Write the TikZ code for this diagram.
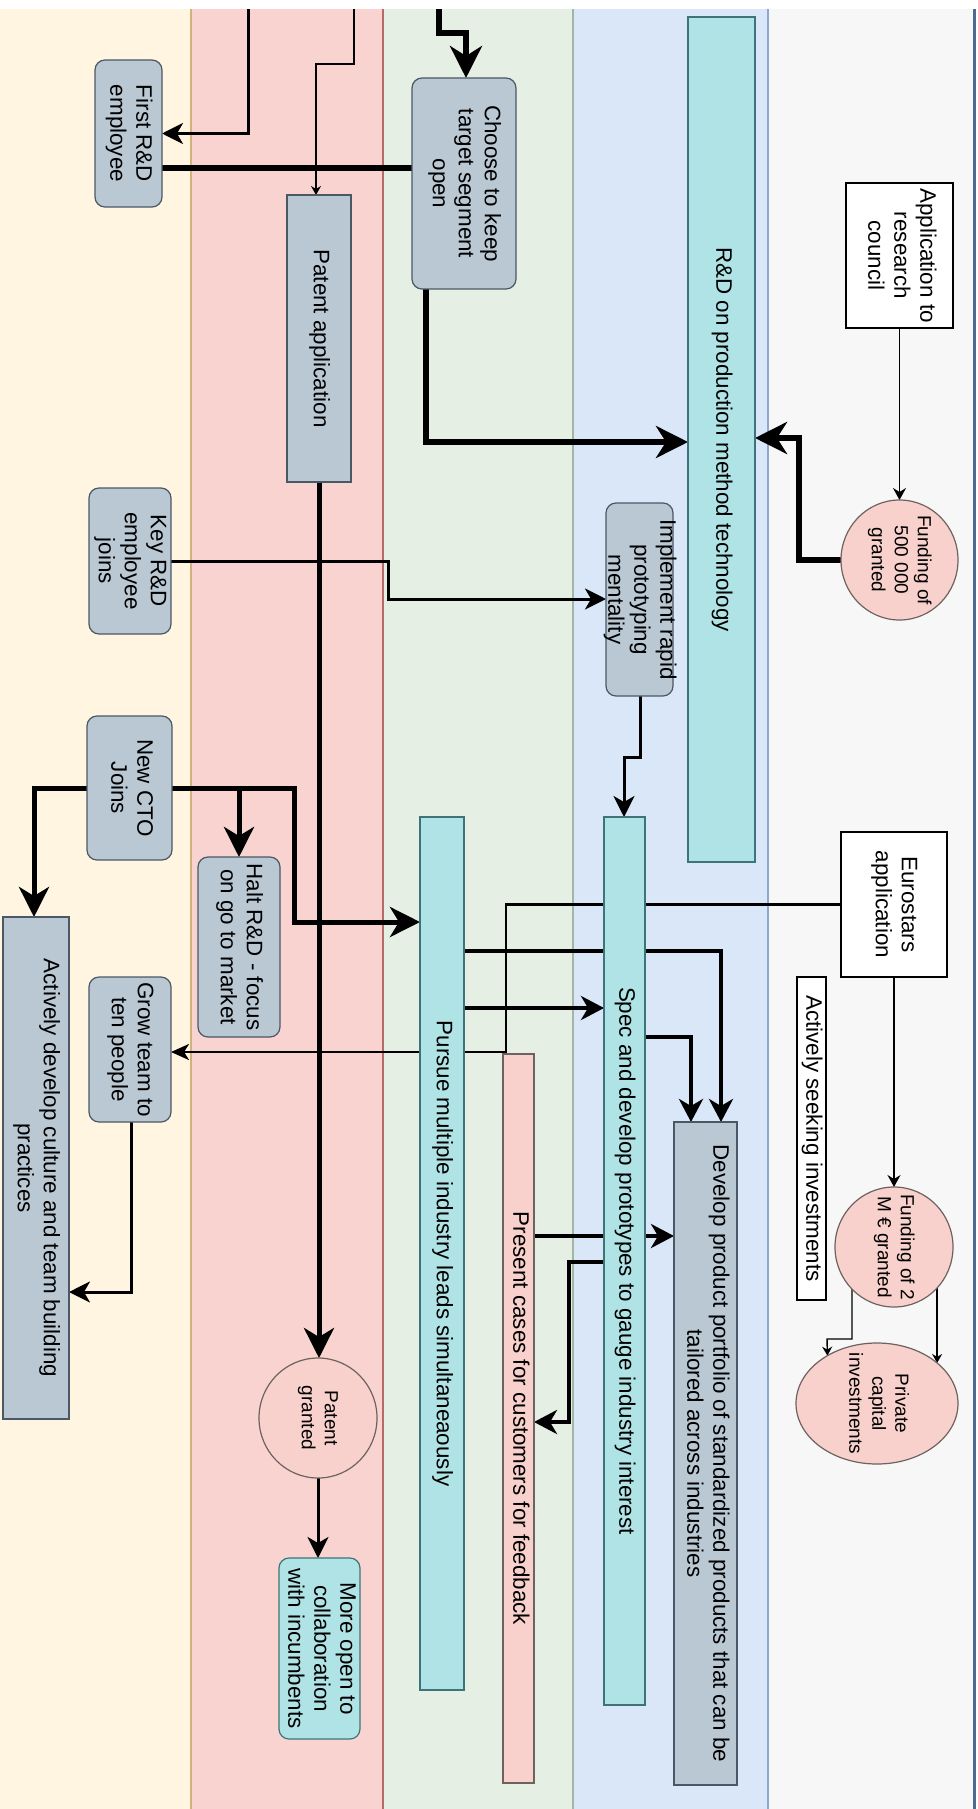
\documentclass[tikz,border=0pt]{standalone}
\usepackage{fontspec}
\setmainfont{Liberation Sans}
\usepackage{graphicx}
\usetikzlibrary{arrows.meta,shapes.geometric}
\pgfdeclarelayer{lanes}
\pgfdeclarelayer{edges}
\pgfsetlayers{lanes,edges,main}
\definecolor{laneY}{HTML}{FFF5E0}
\definecolor{laneR}{HTML}{F8D3D0}
\definecolor{laneG}{HTML}{E5EFE3}
\definecolor{laneB}{HTML}{DAE7F8}
\definecolor{laneW}{HTML}{F7F7F7}
\definecolor{bdY}{HTML}{D4B07A}
\definecolor{bdR}{HTML}{B86A66}
\definecolor{bdG}{HTML}{A3B5A3}
\definecolor{bdB}{HTML}{8DA7CF}
\definecolor{bdW}{HTML}{4F6A8F}
\definecolor{greyF}{HTML}{BAC8D3}
\definecolor{greyS}{HTML}{4A5866}
\definecolor{tealF}{HTML}{B0E3E6}
\definecolor{tealS}{HTML}{3E7479}
\definecolor{pinkF}{HTML}{F8D1CC}
\definecolor{pinkS}{HTML}{6E6260}
\newcommand{\vtext}[1]{\makebox[0pt][c]{\raisebox{.5\depth}[0pt][0pt]{\rotatebox{-90}{\begin{tabular}{@{}c@{}}#1\end{tabular}}}}}
\begin{document}
\begin{tikzpicture}[x=1pt,y=-1pt,
  box/.style={draw=greyS, fill=greyF, line width=1.2pt, inner sep=0pt, outer sep=0pt, font=\fontsize{22.4}{26}\selectfont},
  rbox/.style={box, rounded corners=10pt},
  tealbox/.style={box, draw=tealS, fill=tealF},
  rtealbox/.style={tealbox, rounded corners=10pt},
  whitebox/.style={box, draw=black, fill=white},
  pinkbox/.style={box, draw=pinkS, fill=pinkF},
  oval/.style={ellipse, draw=pinkS, fill=pinkF, line width=1.2pt, inner sep=0pt, outer sep=0pt, font=\fontsize{19}{23}\selectfont},
  arrVT/.style={line width=6pt, -{Stealth[length=32pt,width=32pt,inset=10pt]}},
  arrT5/.style={line width=5pt, -{Stealth[length=30pt,width=30pt,inset=9pt]}},
  arrT4/.style={line width=4pt, -{Stealth[length=23pt,width=24pt,inset=7pt]}},
  arrM3/.style={line width=3pt, -{Stealth[length=21pt,width=21pt,inset=6pt]}},
  arrN2/.style={line width=2.5pt, -{Stealth[length=18pt,width=16pt,inset=5pt]}},
  arrS1/.style={line width=1.6pt, -{Stealth[length=12pt,width=13pt,inset=4pt]}},
  arrS0/.style={line width=1.4pt, -{Stealth[length=9pt,width=10pt,inset=3pt]}},
  plainVT/.style={line width=6pt}
]
\useasboundingbox (0,0) rectangle (977,1809);

\begin{pgfonlayer}{lanes}
\fill[white] (0,0) rectangle (977,1809);
\fill[laneY] (0,9) rectangle (191,1809);
\fill[laneR] (191,9) rectangle (383,1809);
\fill[laneG] (383,9) rectangle (573,1809);
\fill[laneB] (573,9) rectangle (768,1809);
\fill[laneW] (768,9) rectangle (973,1809);
\draw[bdY, line width=2pt] (191,9) -- (191,1809);
\draw[bdR, line width=2pt] (383,9) -- (383,1809);
\draw[bdG, line width=1.5pt] (573,9) -- (573,1809);
\draw[bdB, line width=2pt] (768,9) -- (768,1809);
\draw[bdW, line width=3pt] (974.5,9) -- (974.5,1809);
\end{pgfonlayer}

% nodes
\node[rbox, minimum width=67, minimum height=147] (first) at (128.5,133.5) {\vtext{First R\&D\\employee}};
\node[rbox, minimum width=104, minimum height=211] (choose) at (464,183.5) {\vtext{Choose to keep\\target segment\\open}};
\node[box, minimum width=64, minimum height=287] (patapp) at (319,338.5) {\vtext{Patent application}};
\node[tealbox, minimum width=67, minimum height=845] (rdprod) at (721.5,439.5) {\vtext{R\&D on production method technology}};
\node[whitebox, minimum width=107, minimum height=145] (app) at (899.5,255.5) {\vtext{Application to\\research\\council}};
\node[oval, minimum width=117, minimum height=120] (f5) at (899.5,560) {\vtext{Funding of\\500 000\\granted}};
\node[rbox, minimum width=82, minimum height=146] (key) at (130,561) {\vtext{Key R\&D\\employee\\joins}};
\node[rbox, minimum width=67, minimum height=193] (impl) at (639.5,599.5) {\vtext{Implement rapid\\prototyping\\mentality}};
\node[rbox, minimum width=85, minimum height=144] (cto) at (129.5,788) {\vtext{New CTO\\Joins}};
\node[rbox, minimum width=82, minimum height=180] (halt) at (239,947) {\vtext{Halt R\&D - focus\\on go to market}};
\node[whitebox, minimum width=106, minimum height=145] (euro) at (894,904.5) {\vtext{Eurostars\\application}};
\node[whitebox, minimum width=29, minimum height=323] (seek) at (811.5,1138.5) {\vtext{Actively seeking investments}};
\node[tealbox, minimum width=44, minimum height=873] (pursue) at (442,1253.5) {\vtext{Pursue multiple industry leads simultaneaously}};
\node[tealbox, minimum width=41, minimum height=888] (spec) at (624.5,1261) {\vtext{Spec and develop prototypes to gauge industry interest}};
\node[rbox, minimum width=82, minimum height=145] (grow) at (130,1049.5) {\vtext{Grow team to\\ten people}};
\node[pinkbox, minimum width=31, minimum height=729] (present) at (518.5,1418.5) {\vtext{Present cases for customers for feedback}};
\node[box, minimum width=63, minimum height=663] (develop) at (705.5,1453.5) {\vtext{Develop product portfolio of standardized products that can be\\tailored across industries}};
\node[oval, minimum width=118, minimum height=120] (f2) at (894,1247) {\vtext{Funding of 2\\M € granted}};
\node[box, minimum width=66, minimum height=502] (act) at (36,1168) {\vtext{Actively develop culture and team building\\practices}};
\node[oval, minimum width=162, minimum height=121] (pc) at (877,1403.5) {\vtext{Private\\capital\\investments}};
\node[oval, minimum width=118, minimum height=120] (pg) at (318,1418) {\vtext{Patent\\granted}};
\node[rtealbox, minimum width=81, minimum height=181] (more) at (319.5,1648.5) {\vtext{More open to\\collaboration\\with incumbents}};

\coordinate (topA) at (439,9);
\coordinate (topB) at (248,9);
\coordinate (topC) at (354,9);

\begin{pgfonlayer}{edges}
\draw[arrVT] (topA) |- (466,33) -- (choose.north -| 466,0);
\draw[arrM3] (topB) |- (first.east);
\draw[arrS0] (topC) |- (316,64) -- (patapp.north -| 316,0);
\draw[plainVT] (choose.west |- 0,168) -- (first.east |- 0,168);
\draw[arrVT] (choose.south -| 426,0) |- (rdprod.west |- 0,442);
\draw[arrS1] (app.south) -- (f5.north);
\draw[arrVT] (f5.west) -| (799,438) -- (rdprod.east |- 0,438);
\draw[arrM3] (key.east) -| (388,599) -- (impl.west |- 0,599);
\draw[arrT5] (patapp.south) -- (patapp.south |- pg.north);
\draw[arrM3] (impl.south -| 640,0) |- (624,757) -- (spec.north -| 624,0);
\draw[arrT5] (cto.west) -| (act.north -| 34,0);
\draw[arrT5] (cto.east) -| (halt.north);
\draw[arrT5] (cto.east) -| (294,922) -- (pursue.west |- 0,922);
\draw[arrN2] (euro.west) -| (506,1052) -- (grow.east |- 0,1052);
\draw[arrT4] (pursue.east |- 0,951) -| (develop.north -| 721,0);
\draw[arrT4] (pursue.east |- 0,1008) -- (spec.west |- 0,1008);
\draw[arrT4] (spec.east |- 0,1037) -| (develop.north -| 691,0);
\draw[arrT4] (present.east |- 0,1236) -- (develop.west |- 0,1236);
\draw[arrT4] (spec.west |- 0,1262) -| (569,1422) -- (present.east |- 0,1422);
\draw[arrM3] (grow.south -| 131,0) |- (act.east |- 0,1292);
\draw[arrS1] (euro.south) -- (f2.north);
\draw[arrS0] (f2.center -| 852,0) |- (827,1339) -- (pc.136.8);
\draw[arrS0] (f2.center -| pc.34.9) -- (pc.34.9);
\draw[arrM3] (pg.south) -- (pg.south |- more.north);
\end{pgfonlayer}
\end{tikzpicture}
\end{document}
